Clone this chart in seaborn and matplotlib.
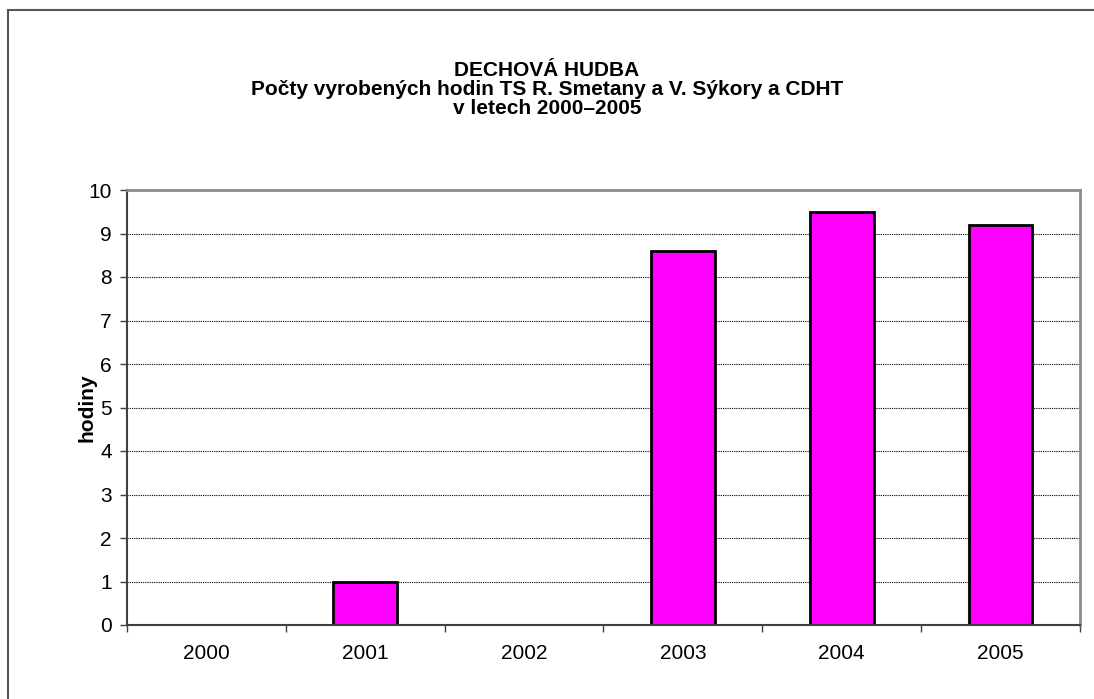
import matplotlib
matplotlib.use("Agg")
import matplotlib.pyplot as plt
import matplotlib.patches as mpatches
import seaborn as sns
import pandas as pd

# data
years = ["2000", "2001", "2002", "2003", "2004", "2005"]
hours = [0, 1, 0, 8.6, 9.5, 9.2]

title = "DECHOVÁ HUDBA\nPočty vyrobených hodin TS R. Smetany a V. Sýkory a CDHT\nv letech 2000–2005"

sns.set_style("white")
plt.rcParams['font.family'] = ['Liberation Sans', 'DejaVu Sans']
plt.rcParams['text.color'] = 'black'
plt.rcParams['axes.labelcolor'] = 'black'
plt.rcParams['xtick.color'] = 'black'
plt.rcParams['ytick.color'] = 'black'

df = pd.DataFrame({"rok": years, "hodiny": hours})

fig = plt.figure(figsize=(10.94, 6.99), dpi=100)
ax = fig.add_axes([127 / 1094, 1 - 625 / 699, (1080 - 127) / 1094, (625 - 190) / 699])

sns.barplot(data=df, x="rok", y="hodiny", color="#ff00ff", edgecolor="black",
            linewidth=2, width=0.4, saturation=1, ax=ax, zorder=3)

ax.set_xlim(-0.5, 5.5)
ax.set_ylim(0, 10)
ax.set_yticks(range(0, 11))
ax.yaxis.grid(True, linestyle=(0, (1, 1)), color="black", linewidth=0.8, zorder=0)
ax.set_xlabel("")
ax.set_ylabel("hodiny", fontsize=15, fontweight="bold")
ax.yaxis.set_label_coords(-0.032, 0.5)

# boundary ticks between categories
ax.set_xticks([i - 0.5 for i in range(7)], minor=True)
ax.tick_params(axis="x", which="major", length=0, labelsize=15, pad=14)
ax.tick_params(axis="x", which="minor", length=5, width=1, color="#404040", direction="out", bottom=True)
ax.tick_params(axis="y", which="major", length=5, width=1, color="#404040", direction="out", left=True,
               labelsize=15, pad=6)

for s in ["left", "bottom"]:
    ax.spines[s].set_color("#404040")
    ax.spines[s].set_linewidth(1.5)
for s in ["right", "top"]:
    ax.spines[s].set_color("#8c8c8c")
    ax.spines[s].set_linewidth(2)
    ax.spines[s].set_visible(True)
for s in ax.spines.values():
    s.set_zorder(4)

fig.text(0.5, 1 - 61 / 699, title, ha="center", va="top", fontsize=15,
         fontweight="bold", linespacing=1.0)

# outer chart frame (only top and left visible in the reference)
frame = mpatches.Rectangle((8 / 1094, -0.1), 1.2, 1.1 - 10 / 699, transform=fig.transFigure,
                           fill=False, edgecolor="#555555", linewidth=1.5, clip_on=False)
fig.patches.append(frame)

fig.savefig("out.png", dpi=100)
